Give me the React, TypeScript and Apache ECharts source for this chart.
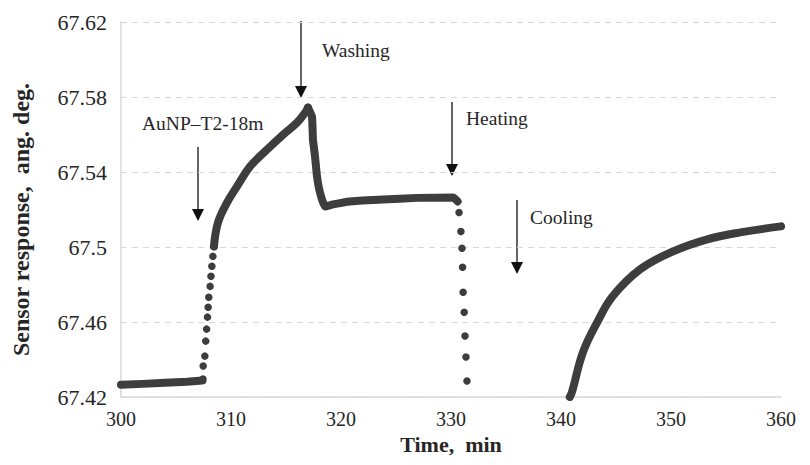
import React, { useEffect, useRef } from "react";
import * as echarts from "echarts";

// ---- Data ----
const Y_BASE = 67.42; // value at the bottom of the y axis
const yTicks = [67.42, 67.46, 67.5, 67.54, 67.58, 67.62];
const xTicks = [300, 310, 320, 330, 340, 350, 360];

// before AuNP injection (dense dots)
const baseline: [number, number][] = [
  [300, 67.4265], [302, 67.4270], [304, 67.4276], [306, 67.4281], [307.4, 67.4288],
];
// fast rise after injection (separate dots)
const riseDots: [number, number][] = [
  [307.45, 67.4296], [307.47, 67.4365], [307.62, 67.4418], [307.7, 67.4498],
  [307.78, 67.4562], [307.86, 67.4626], [307.92, 67.4679], [307.98, 67.4732],
  [308.1, 67.479], [308.18, 67.4844], [308.26, 67.4897], [308.35, 67.495],
  [308.45, 67.5003],
];
// binding curve (dense dots)
const binding: [number, number][] = [
  [308.45, 67.5003], [308.82, 67.5131], [309.64, 67.5237], [310.55, 67.5323],
  [311.73, 67.5429], [313.27, 67.5519], [314.73, 67.5599], [316.0, 67.5663],
  [316.73, 67.5716], [317.0, 67.5743],
];
// washing step (dense dots)
const washing: [number, number][] = [
  [317.0, 67.5743], [317.36, 67.5695], [317.45, 67.5573], [317.64, 67.5482],
  [317.82, 67.5376], [318.09, 67.5291], [318.55, 67.5216], [319.27, 67.5227],
  [320.8, 67.5243], [323.8, 67.5253], [326.9, 67.5262], [330.2, 67.5264],
  [330.6, 67.5243],
];
// heating (separate dots)
const heatingDots: [number, number][] = [
  [330.73, 67.5184], [330.9, 67.5083], [331.0, 67.4993], [331.05, 67.4892],
  [331.1, 67.4759], [331.2, 67.4652], [331.27, 67.4525], [331.36, 67.4413],
  [331.45, 67.4285],
];
// cooling (dense dots)
const cooling: [number, number][] = [
  [340.8, 67.42], [341.0, 67.4227], [342.0, 67.4439], [343.3, 67.4599],
  [344.7, 67.4737], [347.2, 67.4881], [350.2, 67.4977], [353.3, 67.5041],
  [356.3, 67.5078], [360, 67.511],
];

const DOT = "#3d3d3d";
const TEXT = "#262626";
const GRID = "#d9d9d9";
const SERIF = "'Liberation Serif', 'Times New Roman', serif";

const shift = (arr: [number, number][]) => arr.map(([x, y]) => [x, +(y - Y_BASE).toFixed(5)]);

function arrow(x: number, top: number, tip: number) {
  return [
    { type: "line", shape: { x1: x, y1: top, x2: x, y2: tip - 10 }, style: { stroke: "#111", lineWidth: 1.3 } },
    {
      type: "polygon",
      shape: { points: [[x - 6, tip - 12], [x + 6, tip - 12], [x, tip]] },
      style: { fill: "#111" },
    },
  ];
}
function note(text: string, x: number, y: number) {
  return {
    type: "text",
    x,
    y,
    style: { text, fill: TEXT, font: `19.5px ${SERIF}`, textVerticalAlign: "middle", textAlign: "left" },
  };
}

export default function App() {
  const ref = useRef<HTMLDivElement>(null);
  useEffect(() => {
    const chart = echarts.init(ref.current!, undefined, { renderer: "svg" });
    const lineSeries = (data: [number, number][], smooth: number) => ({
      type: "line",
      data: shift(data),
      smooth,
      showSymbol: false,
      symbol: "none",
      lineStyle: { color: DOT, width: 8, cap: "round", join: "round" },
      silent: true,
    });
    const dotSeries = (data: [number, number][]) => ({
      type: "scatter",
      data: shift(data),
      symbolSize: 7.5,
      itemStyle: { color: DOT, opacity: 1 },
      silent: true,
    });
    chart.setOption({
      animation: false,
      backgroundColor: "#ffffff",
      grid: { left: 121, right: 29, top: 22, bottom: 68 },
      xAxis: {
        type: "value",
        min: xTicks[0],
        max: xTicks[xTicks.length - 1],
        interval: xTicks[1] - xTicks[0],
        name: "Time,  min",
        nameLocation: "middle",
        nameGap: 37,
        nameMoveOverlap: false,
        nameTextStyle: { fontFamily: SERIF, fontWeight: "bold", fontSize: 22, lineHeight: 20, color: TEXT },
        axisLine: { show: true, lineStyle: { color: GRID, width: 1.5 } },
        axisTick: { show: false },
        splitLine: { show: false },
        axisLabel: { fontFamily: SERIF, fontSize: 20, lineHeight: 18, color: TEXT, margin: 13 },
      },
      yAxis: {
        type: "value",
        min: 0,
        max: +(yTicks[yTicks.length - 1] - Y_BASE).toFixed(4),
        interval: +(yTicks[1] - yTicks[0]).toFixed(4),
        name: "Sensor response,  ang. deg.",
        nameLocation: "middle",
        nameGap: 88,
        nameMoveOverlap: false,
        nameTextStyle: {
          fontFamily: SERIF,
          fontWeight: "bold",
          fontSize: 24,
          color: TEXT,
          padding: [0, 20, 0, 0],
        },
        axisLine: { show: true, lineStyle: { color: GRID, width: 1.5 } },
        axisTick: { show: false },
        splitLine: { show: true, lineStyle: { color: GRID, type: [6, 5], width: 1 } },
        axisLabel: {
          fontFamily: SERIF,
          fontSize: 22,
          color: TEXT,
          margin: 14,
          formatter: (v: number) => String(parseFloat((Y_BASE + v).toFixed(2))),
        },
      },
      series: [
        lineSeries(baseline, 0),
        dotSeries(riseDots),
        lineSeries(binding, 0.4),
        lineSeries(washing, 0.15),
        dotSeries(heatingDots),
        lineSeries(cooling, 0.4),
      ],
      graphic: [
        ...arrow(198, 147, 221),
        ...arrow(301, 21, 98),
        ...arrow(452, 102, 176),
        ...arrow(517, 200, 274),
        note("AuNP–T2-18m", 142, 123),
        note("Washing", 322, 50),
        note("Heating", 466, 118),
        note("Cooling", 530, 217),
      ],
    });
    return () => chart.dispose();
  }, []);
  return <div ref={ref} style={{ width: 810, height: 465, margin: -8 }} />;
}
